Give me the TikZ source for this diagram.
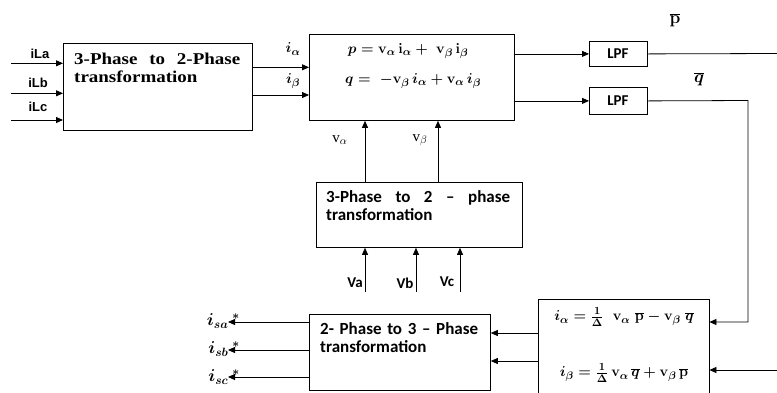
\documentclass[tikz,border=0pt]{standalone}
\usepackage{fontspec}
\setmainfont{Liberation Serif}
\newfontfamily\timesw[FakeStretch=1.15]{Liberation Serif}
\newfontfamily\calfont{Carlito}
\newfontfamily\arialfont{Liberation Sans}
\usetikzlibrary{arrows.meta}
\begin{document}
\begin{tikzpicture}[x=1pt,y=-1pt,
  box/.style={draw, line width=0.8pt, inner sep=0pt},
  arr/.style={line width=0.8pt, -{Triangle[length=7pt,width=6pt]}},
  ln/.style={line width=0.8pt},
  lbl/.style={inner sep=0pt},
  mth/.style={inner sep=0pt, font=\fontsize{15}{18}\selectfont\boldmath},
  mthl/.style={inner sep=0pt, font=\fontsize{17}{19}\selectfont\boldmath},
  inl/.style={inner sep=0pt, font=\arialfont\bfseries\fontsize{13}{15}\selectfont},
  cal/.style={inner sep=0pt, font=\calfont\bfseries\fontsize{17}{18}\selectfont},
  calsm/.style={inner sep=0pt, font=\calfont\bfseries\fontsize{15}{17}\selectfont}]
\useasboundingbox (0,0) rectangle (777,392);

% boxes
\node[box, anchor=north west, minimum width=189pt, minimum height=87pt] (b1) at (63,43) {};
\node[box, anchor=north west, minimum width=205pt, minimum height=86pt] (b2) at (309,34) {};
\node[box, anchor=north west, minimum width=58pt, minimum height=25pt] (lpf1) at (589,41) {};
\node[box, anchor=north west, minimum width=58pt, minimum height=27pt] (lpf2) at (589,87) {};
\node[box, anchor=north west, minimum width=206pt, minimum height=65pt] (bm) at (316,182) {};
\node[box, anchor=north west, minimum width=181pt, minimum height=76pt] (b3) at (309,314) {};
\node[inner sep=0pt, anchor=north west, minimum width=171pt, minimum height=95pt] (b4) at (538,299) {};
\draw[ln] (b4.south west) -- (b4.north west) -- (b4.north east) -- (b4.south east);

% box texts
\node[lbl, anchor=north west, text width=166pt, align=justify,
  font=\timesw\bfseries\fontsize{16.5}{17.5}\selectfont] (t1) at (74,53)
  {3-Phase to 2-Phase\linebreak transformation};
\node[mth] (e1) at (408,51) {$p = \mathbf{v}_{\alpha}\,\mathbf{i}_{\alpha} +\; \mathbf{v}_{\beta}\,\mathbf{i}_{\beta}$};
\node[mth] (e2) at (413,81) {$q = \;-\mathbf{v}_{\beta}\,i_{\alpha} + \mathbf{v}_{\alpha}\,i_{\beta}$};
\node[calsm] (tl1) at (618,53.5) {LPF};
\node[calsm] (tl2) at (618,100.5) {LPF};
\node[cal, anchor=north west, text width=184pt, align=justify] (tm) at (326,190.5)
  {3-Phase to 2 – phase\linebreak transformation};
\node[cal, anchor=north west, text width=165pt, align=left] (t3) at (320,322.5)
  {2- Phase to 3 – Phase\\transformation};
\node[mth] (e3) at (624,317) {$i_{\alpha} = \frac{1}{\Delta}\;\; \mathbf{v}_{\alpha}\; \overline{\mathbf{p}} - \mathbf{v}_{\beta}\; \overline{q}$};
\node[mth] (e4) at (624,373) {$i_{\beta} = \frac{1}{\Delta}\,\mathbf{v}_{\alpha}\, \overline{q} + \mathbf{v}_{\beta}\, \overline{\mathbf{p}}$};

% input currents
\coordinate (la) at (11,63.3);
\coordinate (lb) at (11,93.3);
\coordinate (lc) at (11,120);
\draw[arr] (la) -- (la -| b1.west);
\draw[arr] (lb) -- (lb -| b1.west);
\draw[arr] (lc) -- (lc -| b1.west);
\node[inl] (tla) at (40,54) {iLa};
\node[inl] (tlb) at (38,83) {iLb};
\node[inl] (tlc) at (38,107) {iLc};

% b1 -> b2
\coordinate (ia) at (280,67.3);
\coordinate (ib) at (280,95);
\draw[arr] (ia -| b1.east) -- (ia -| b2.west);
\draw[arr] (ib -| b1.east) -- (ib -| b2.west);
\node[mth] (tia) at (293,49) {$i_{\alpha}$};
\node[mth] (tib) at (293,81) {$i_{\beta}$};

% b2 -> LPF
\draw[arr] (lpf1 -| b2.east) -- (lpf1.west);
\draw[arr] (lpf2 -| b2.east) -- (lpf2.west);
\coordinate (pend) at (777,53.5);
\draw[ln] (lpf1.east) -- (pend);
\node[mthl] (tp) at (675,20) {$\overline{\mathbf{p}}$};
\node[mthl] (tq) at (699,79) {$\overline{q}$};
\coordinate (qc) at (748,100.5);
\coordinate (q4) at (748,322);
\draw[arr] (lpf2.east) -- (qc) -- (q4) -- (q4 -| b4.east);
\coordinate (pin) at (777,370);
\draw[arr] (pin) -- (pin -| b4.east);

% bm -> b2
\coordinate (va) at (365,182);
\coordinate (vb) at (438,182);
\draw[arr] (va) -- (va |- b2.south);
\draw[arr] (vb) -- (vb |- b2.south);
\node[lbl, font=\fontsize{15}{17}\selectfont] (tva) at (340,140) {v$_{\alpha}$};
\node[lbl, font=\fontsize{15}{17}\selectfont] (tvb) at (420,140) {v$_{\beta}$};

% Va Vb Vc
\coordinate (ua) at (365,292);
\coordinate (ub) at (416,292);
\coordinate (uc) at (460,292);
\draw[arr] (ua) -- (ua |- bm.south);
\draw[arr] (ub) -- (ub |- bm.south);
\draw[arr] (uc) -- (uc |- bm.south);
\node[calsm] (tua) at (355,283) {Va};
\node[calsm] (tub) at (405,283) {Vb};
\node[calsm] (tuc) at (447,282) {Vc};

% b4 -> b3
\coordinate (o1) at (520,333);
\coordinate (o2) at (520,361);
\draw[arr] (o1 -| b4.west) -- (o1 -| b3.east);
\draw[arr] (o2 -| b4.west) -- (o2 -| b3.east);

% b3 outputs
\coordinate (sa) at (228,322);
\coordinate (sb) at (228,350);
\coordinate (sc) at (228,377);
\draw[arr] (sa -| b3.west) -- (sa);
\draw[arr] (sb -| b3.west) -- (sb);
\draw[arr] (sc -| b3.west) -- (sc);
\node[mthl, anchor=east] (tsa) at (240,321) {$i_{sa}\hspace{4pt}{}^{*}$};
\node[mthl, anchor=east] (tsb) at (240,349) {$i_{sb}\hspace{4pt}{}^{*}$};
\node[mthl, anchor=east] (tsc) at (240,377) {$i_{sc}\hspace{4pt}{}^{*}$};
\end{tikzpicture}
\end{document}
